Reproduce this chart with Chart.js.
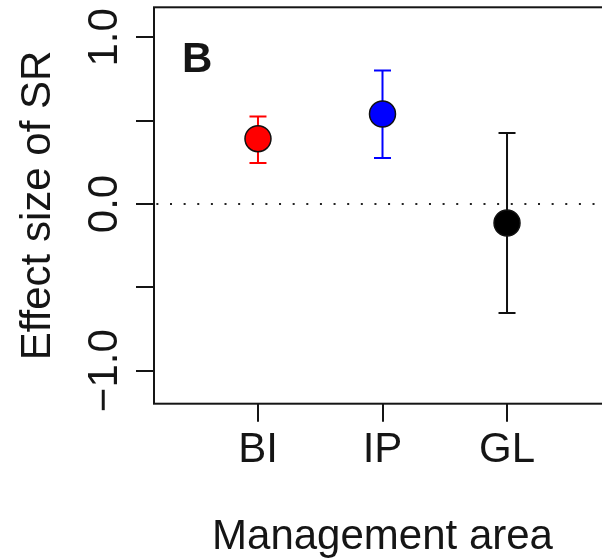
<!DOCTYPE html>
<html>
<head>
<meta charset="utf-8">
<script src="https://cdn.jsdelivr.net/npm/chart.js"></script>
<style>
  html, body { margin: 0; padding: 0; background: #fff; overflow: hidden; }
  #wrap { width: 620px; height: 559px; }
</style>
</head>
<body>
<div id="wrap"><canvas id="effectChart" width="620" height="559"></canvas></div>

<script>
    // Management areas and effect sizes of SR with their intervals
    const areas = ['BI', 'IP', 'GL'];
    const areaPos = [1, 2, 3];
    const effect = [0.392, 0.540, -0.114];
    const lower = [0.246, 0.276, -0.654];
    const upper = [0.525, 0.801, 0.426];
    const areaColors = ['#ff0000', '#0000ff', '#000000'];

    const yTicks = [-1, -0.5, 0, 0.5, 1];
    const yLabelValues = [-1, 0, 1];
    const yLabels = ['\u22121.0', '0.0', '1.0'];

    const font = "'Liberation Sans', Arial, sans-serif";
    const ink = '#151515';

    // error bars, frame, zero line and all text
    const decorations = {
        id: 'decorations',
        beforeDatasetsDraw(chart) {
            const { ctx, chartArea: a, scales: { x, y } } = chart;
            ctx.save();

            // dotted reference line at zero
            const y0 = y.getPixelForValue(0);
            ctx.strokeStyle = '#222';
            ctx.lineWidth = 2;
            ctx.setLineDash([2, 11.63]);
            ctx.lineDashOffset = 11.26;
            ctx.beginPath();
            ctx.moveTo(a.left, y0);
            ctx.lineTo(a.right, y0);
            ctx.stroke();
            ctx.setLineDash([]);

            // error bars
            ctx.lineWidth = 2;
            areaPos.forEach((p, i) => {
                const px = x.getPixelForValue(p);
                const lo = y.getPixelForValue(lower[i]);
                const hi = y.getPixelForValue(upper[i]);
                ctx.strokeStyle = areaColors[i] === '#000000' ? '#111' : areaColors[i];
                ctx.beginPath();
                ctx.moveTo(px, lo); ctx.lineTo(px, hi);
                ctx.moveTo(px - 8.5, lo); ctx.lineTo(px + 8.5, lo);
                ctx.moveTo(px - 8.5, hi); ctx.lineTo(px + 8.5, hi);
                ctx.stroke();
            });

            // plot frame
            ctx.strokeStyle = ink;
            ctx.lineWidth = 2;
            ctx.strokeRect(a.left, a.top, a.right - a.left, a.bottom - a.top);

            ctx.fillStyle = ink;

            // panel letter
            ctx.font = 'bold 42px ' + font;
            ctx.textAlign = 'left';
            ctx.textBaseline = 'alphabetic';
            ctx.fillText('B', a.left + 28, a.top + 65);

            // x tick labels
            ctx.font = '42px ' + font;
            ctx.textAlign = 'center';
            areaPos.forEach((p, i) => {
                ctx.fillText(areas[i], x.getPixelForValue(p), a.bottom + 58.5);
            });

            // x axis title
            ctx.fillText('Management area', (a.left + a.right) / 2, 549);

            // y tick labels, rotated
            yLabelValues.forEach((v, i) => {
                ctx.save();
                ctx.translate(117, y.getPixelForValue(v));
                ctx.rotate(-Math.PI / 2);
                ctx.fillText(yLabels[i], 0, 0);
                ctx.restore();
            });

            // y axis title
            ctx.save();
            ctx.translate(50, (a.top + a.bottom) / 2);
            ctx.rotate(-Math.PI / 2);
            ctx.fillText('Effect size of SR', 0, 0);
            ctx.restore();

            ctx.restore();
        }
    };

    const ctx = document.getElementById('effectChart').getContext('2d');
    const effectChart = new Chart(ctx, {
        type: 'scatter',
        data: {
            datasets: [{
                data: areaPos.map((p, i) => ({ x: p, y: effect[i] })),
                backgroundColor: areaColors,
                borderColor: '#111',
                borderWidth: 1.5,
                pointRadius: 13,
                pointHoverRadius: 13
            }]
        },
        options: {
            responsive: false,
            animation: false,
            devicePixelRatio: 1,
            layout: { autoPadding: false, padding: { top: 7.3, right: 9, left: 0, bottom: 0 } },
            plugins: { legend: { display: false }, tooltip: { enabled: false } },
            scales: {
                x: {
                    type: 'linear',
                    min: 0.165,
                    max: 3.835,
                    afterBuildTicks: s => { s.ticks = areaPos.map(v => ({ value: v })); },
                    afterFit: s => { s.height = 155.3; },
                    ticks: { display: false },
                    border: { display: false },
                    grid: { drawOnChartArea: false, tickLength: 18, color: ink, lineWidth: 2 }
                },
                y: {
                    min: -1.198,
                    max: 1.18,
                    afterBuildTicks: s => { s.ticks = yTicks.map(v => ({ value: v })); },
                    afterFit: s => { s.width = 154; },
                    ticks: { display: false },
                    border: { display: false },
                    grid: { drawOnChartArea: false, tickLength: 18, color: ink, lineWidth: 2 }
                }
            }
        },
        plugins: [decorations]
    });
</script>
</body>
</html>
